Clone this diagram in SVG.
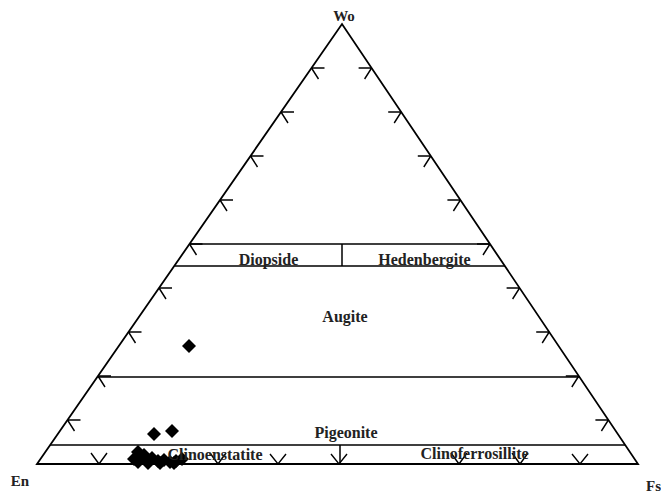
<svg xmlns="http://www.w3.org/2000/svg" width="661" height="494" viewBox="0 0 661 494">
<style>
.edge{fill:none;stroke:#000;stroke-width:1.8;stroke-linejoin:miter}
.ln{fill:none;stroke:#000;stroke-width:1.5}
.tk{fill:none;stroke:#000;stroke-width:1.4}
.lbl{font-family:"Liberation Serif","Times New Roman",serif;font-weight:bold;font-size:16px;fill:#222;text-anchor:middle}
.ax{font-family:"Liberation Serif","Times New Roman",serif;font-weight:bold;font-size:15px;fill:#222}
.pt{fill:#000}
</style>
<defs>
<path id="d" d="M0,-7 L7,0 L0,7 L-7,0 Z"/>
</defs>
<rect width="661" height="494" fill="#fff"/>
<g id="frame">
<path class="edge" d="M37,464 L342,24 L638,464 Z"/>
</g>
<g id="fields">
<path class="ln" d="M189.5,244 H490 M174.5,266 H505 M342,244 V266 M98,377 H579.5 M50,445 H625 M340,445 V464"/>
</g>
<g id="ticks">
<path class="tk" d="M311.5,68 h13 M311.5,68 l7,11 M281,112 h13 M281,112 l7,11 M250.5,156 h13 M250.5,156 l7,11 M220,200 h13 M220,200 l7,11 M189.5,244 h13 M189.5,244 l7,11 M159,288 h13 M159,288 l7,11 M128.5,332 h13 M128.5,332 l7,11 M98,376 h13 M98,376 l7,11 M67.5,420 h13 M67.5,420 l7,11"/>
<path class="tk" d="M371.6,68 h-13 M371.6,68 l-7,11 M401.2,112 h-13 M401.2,112 l-7,11 M430.8,156 h-13 M430.8,156 l-7,11 M460.4,200 h-13 M460.4,200 l-7,11 M490,244 h-13 M490,244 l-7,11 M519.6,288 h-13 M519.6,288 l-7,11 M549.2,332 h-13 M549.2,332 l-7,11 M578.8,376 h-13 M578.8,376 l-7,11 M608.4,420 h-13 M608.4,420 l-7,11"/>
<path class="tk" d="M91,453 L99,464 L107,453 M210,453 L218,464 L226,453 M270,454 L278,464 L286,454 M331,454 L339,464 L347,454 M451,453 L459,464 L467,453 M512,453 L520,464 L528,453 M572,454 L580,464 L588,454"/>
</g>
<g id="labels">
<text class="ax" x="344" y="21" text-anchor="middle">Wo</text>
<text class="ax" x="20" y="486" text-anchor="middle">En</text>
<text class="ax" x="646" y="491">Fs</text>
<text class="lbl" x="268.5" y="265">Diopside</text>
<text class="lbl" x="424.5" y="265">Hedenbergite</text>
<text class="lbl" x="345" y="322">Augite</text>
<text class="lbl" x="346" y="438">Pigeonite</text>
<text class="lbl" x="474.5" y="459">Clinoferrosillite</text>
</g>
<g id="data">
<use href="#d" class="pt" x="189" y="346"/>
<use href="#d" class="pt" x="154" y="434"/>
<use href="#d" class="pt" x="172" y="431"/>
<use href="#d" class="pt" x="138" y="452"/>
<use href="#d" class="pt" x="144" y="455"/>
<use href="#d" class="pt" x="134" y="459"/>
<use href="#d" class="pt" x="138" y="462"/>
<use href="#d" class="pt" x="146" y="460"/>
<use href="#d" class="pt" x="152" y="458"/>
<use href="#d" class="pt" x="158" y="461"/>
<use href="#d" class="pt" x="164" y="460"/>
<use href="#d" class="pt" x="170" y="462"/>
<use href="#d" class="pt" x="176" y="461"/>
<use href="#d" class="pt" x="182" y="459"/>
<use href="#d" class="pt" x="160" y="463"/>
<use href="#d" class="pt" x="174" y="463"/>
<use href="#d" class="pt" x="148" y="463"/>
</g>
<g id="label-clinoenstatite">
<text class="lbl" x="215" y="460">Clinoenstatite</text>
</g>
</svg>
